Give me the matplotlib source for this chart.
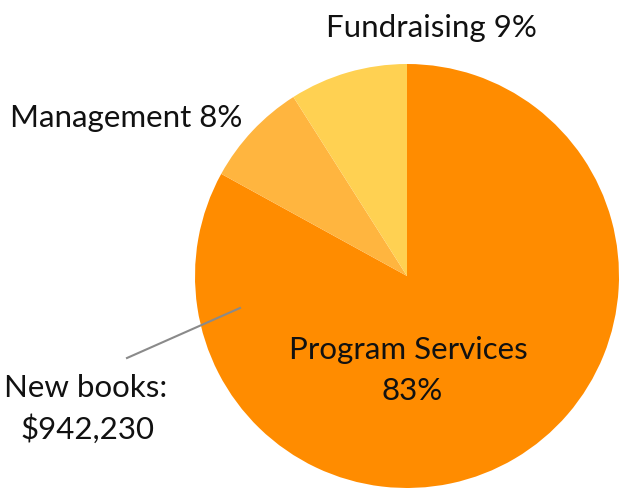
import matplotlib.pyplot as plt

# Expense breakdown (percent of total)
categories = ["Program Services", "Management", "Fundraising"]
shares = [83, 8, 9]
colors = ["#FF8C00", "#FFB53F", "#FFD152"]
note_label = "New books:"
note_value = "$942,230"

plt.rcParams['font.family'] = ['Lato', 'DejaVu Sans']

W, H = 628, 489
fig = plt.figure(figsize=(W / 100, H / 100), dpi=100)

# pie centre (407, 277) px, radius 212 px
cx, cy, r = 407, 277, 212
ax = fig.add_axes([(cx - r) / W, (H - cy - r) / H, 2 * r / W, 2 * r / H])
ax.pie(shares, colors=colors, startangle=90, counterclock=False,
       wedgeprops=dict(linewidth=0))
ax.set_aspect('equal')
ax.set_xlim(-1, 1)
ax.set_ylim(-1, 1)
ax.axis('off')


def px(x, y):
    return x / W, 1 - y / H


fs = 22.5
kw = dict(fontsize=fs, ha='center', va='center', color='#111111')
fig.text(*px(408, 350), categories[0], **kw)
fig.text(*px(412, 391), f"{shares[0]}%", **kw)
fig.text(*px(126, 118), f"{categories[1]} {shares[1]}%", **kw)
fig.text(*px(431, 28), f"{categories[2]} {shares[2]}%", **kw)
fig.text(*px(86, 388), note_label, **kw)
fig.text(*px(87, 429), note_value, **kw)

# leader line from the note into the big slice
fig.add_artist(plt.Line2D([127 / W, 240 / W], [1 - 359 / H, 1 - 309 / H],
                          color='#8A8A8A', linewidth=1.5))

fig.savefig("out.png", dpi=100)
